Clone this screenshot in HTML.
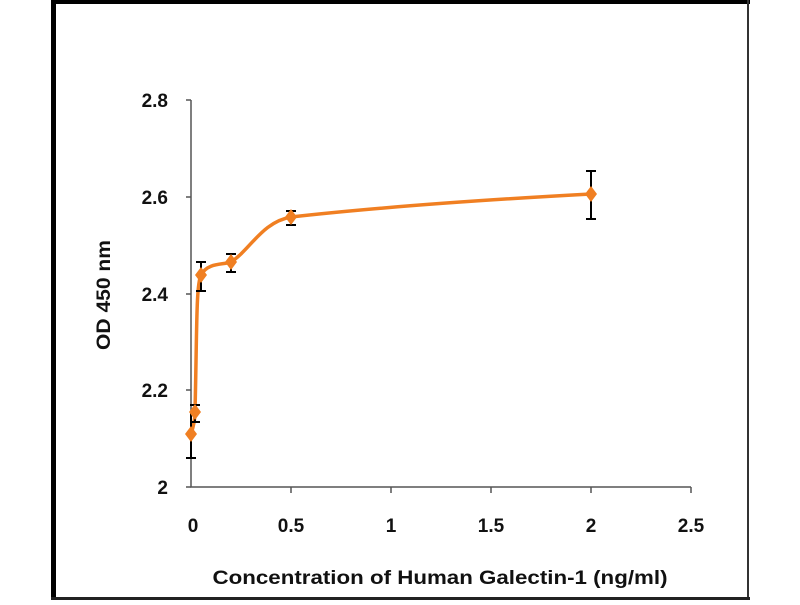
<!DOCTYPE html><html><head><style>body{margin:0;background:#fff}</style></head><body>
<svg width="800" height="600" xmlns="http://www.w3.org/2000/svg" font-family="Liberation Sans, sans-serif" font-weight="bold">
<rect x="0" y="0" width="800" height="600" fill="#fff"/>
<rect x="51" y="0" width="5" height="600" fill="#000"/>
<rect x="51" y="0" width="699" height="4" fill="#000"/>
<rect x="747" y="0" width="2" height="600" fill="#333"/>
<rect x="51" y="597" width="699" height="3" fill="#222"/>
<g stroke="#555" stroke-width="1.5" fill="none">
<path d="M191 100V487H691"/>
<path d="M186 100H191M186 197H191M186 294H191M186 390H191M186 487H191"/>
<path d="M291 487v6M391 487v6M491 487v6M591 487v6M691 487v6"/>
</g>
<g font-size="19" fill="#111" text-anchor="end">
<text x="168" y="107">2.8</text><text x="168" y="204">2.6</text><text x="168" y="301">2.4</text><text x="168" y="397">2.2</text><text x="168" y="494">2</text>
</g>
<g font-size="19" fill="#111" text-anchor="middle">
<text x="193" y="532">0</text><text x="291" y="532">0.5</text><text x="391" y="532">1</text><text x="491" y="532">1.5</text><text x="591" y="532">2</text><text x="691" y="532">2.5</text>
<text x="440" y="584" textLength="455" lengthAdjust="spacingAndGlyphs">Concentration of Human Galectin-1 (ng/ml)</text>
<text transform="translate(110 295) rotate(-90)" textLength="110" lengthAdjust="spacingAndGlyphs">OD 450 nm</text>
</g>
<path d="M191 434 C194 425,195 418,195 412 C197 330,196 285,201 275 C208 262,224 265,231 262 C250 250,262 222,291 217 C380 207,480 200,591 194" fill="none" stroke="#f07f22" stroke-width="3.5"/>
<g stroke="#000" stroke-width="2">
<path d="M191 412V458M186 458h10"/>
<path d="M195 405V422M190 405h10M190 422h10"/>
<path d="M201 262V291M196 262h10M196 291h10"/>
<path d="M231 254V272M226 254h10M226 272h10"/>
<path d="M291 211V225M286 211h10M286 225h10"/>
<path d="M591 171V219M586 171h10M586 219h10"/>
</g>
<g fill="#f07f22">
<path d="M191 426l6 8-6 8-6-8z"/><path d="M195 404l6 8-6 8-6-8z"/><path d="M201 267l6 8-6 8-6-8z"/><path d="M231 254l6 8-6 8-6-8z"/><path d="M291 209l6 8-6 8-6-8z"/><path d="M591 186l6 8-6 8-6-8z"/>
</g>
</svg></body></html>
